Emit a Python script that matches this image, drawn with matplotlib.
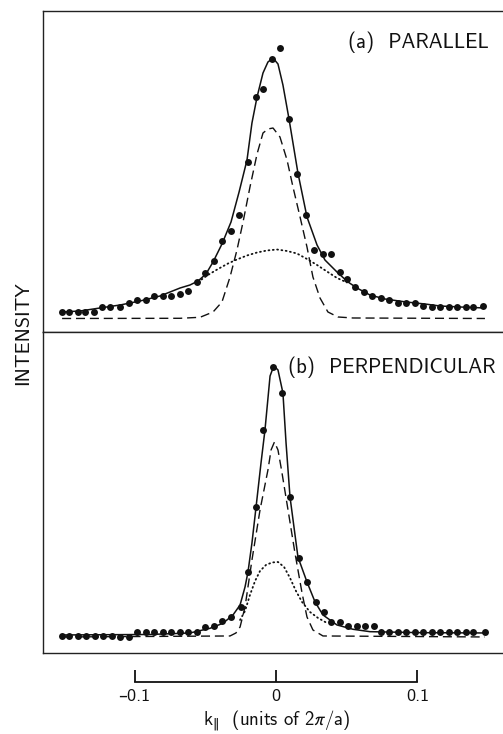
import matplotlib
matplotlib.use("Agg")
import matplotlib.pyplot as plt

plt.rcParams['font.family'] = ['cmss10', 'DejaVu Sans']
plt.rcParams['mathtext.fontset'] = 'dejavusans'
plt.rcParams['axes.unicode_minus'] = False

# ---- data: k_parallel (units of 2pi/a), intensity (arb. units) ----
# (a) parallel
k_a = [-0.151, -0.146, -0.140, -0.135, -0.129, -0.123, -0.117, -0.110, -0.104, -0.098,
       -0.092, -0.086, -0.080, -0.074, -0.068, -0.062, -0.056, -0.050, -0.044, -0.038,
       -0.032, -0.026, -0.020, -0.014, -0.009, -0.003, 0.003, 0.009, 0.015, 0.021,
       0.027, 0.033, 0.039, 0.045, 0.050, 0.056, 0.062, 0.068, 0.074, 0.080,
       0.086, 0.092, 0.098, 0.104, 0.110, 0.116, 0.122, 0.128, 0.134, 0.139, 0.146]
I_a = [20, 20, 20, 20, 20, 25, 25, 25, 29, 32,
       32, 36, 36, 36, 38, 41, 50, 59, 71, 91,
       101, 117, 170, 235, 243, 273, 284, 213, 158, 117,
       82, 78, 78, 60, 53, 45, 40, 36, 34, 32,
       29, 29, 29, 26, 25, 25, 25, 25, 25, 25, 26]

fit_k_a = [-0.1512, -0.1385, -0.1244, -0.1102, -0.0961, -0.0820, -0.0678, -0.0608, -0.0551,
           -0.0495, -0.0445, -0.0382, -0.0318, -0.0261, -0.0205, -0.0170, -0.0134, -0.0092,
           -0.0057, -0.0021, 0.0014, 0.0049, 0.0092, 0.0155, 0.0219, 0.0290, 0.0346, 0.0438,
           0.0509, 0.0572, 0.0664, 0.0770, 0.0919, 0.1053, 0.1159, 0.1300, 0.1477]
fit_I_a = [20, 21, 24, 27, 31, 36, 44, 47, 51,
           58, 70, 88, 110, 140, 172, 209, 235, 259,
           270, 274, 268, 247, 213, 159, 115, 87, 72, 59,
           50, 44, 37, 33, 30, 28, 26, 25, 24]

sharp_k_a = [-0.1512, -0.0678, -0.0537, -0.0445, -0.0382, -0.0325, -0.0276, -0.0233, -0.0184,
             -0.0134, -0.0092, -0.0057, -0.0021, 0.0028, 0.0078, 0.0120, 0.0170, 0.0219,
             0.0261, 0.0311, 0.0367, 0.0438, 0.0544, 0.1477]
sharp_I_a = [13.5, 13.7, 14.7, 20, 30, 55, 82, 110, 145,
             178, 199, 203, 204, 195, 172, 145, 115, 85,
             55, 34, 20, 15, 14, 13.5]

broad_k_a = [-0.0551, -0.0481, -0.0410, -0.0339, -0.0276, -0.0205, -0.0134, -0.0064,
             0.0007, 0.0078, 0.0148, 0.0219, 0.0290, 0.0360, 0.0431, 0.0502]
broad_I_a = [50, 57, 63, 68.5, 72.5, 76.5, 79.5, 81.5,
             82.5, 81, 78.5, 73, 67, 60.5, 54, 49.5]

# (b) perpendicular
k_b = [-0.151, -0.146, -0.140, -0.134, -0.128, -0.122, -0.116, -0.110, -0.104, -0.098,
       -0.092, -0.086, -0.080, -0.074, -0.068, -0.062, -0.056, -0.050, -0.044, -0.038,
       -0.032, -0.025, -0.020, -0.014, -0.009, -0.002, 0.004, 0.010, 0.016, 0.022,
       0.028, 0.034, 0.039, 0.045, 0.051, 0.057, 0.063, 0.069, 0.074, 0.080,
       0.086, 0.092, 0.098, 0.104, 0.110, 0.116, 0.122, 0.128, 0.134, 0.139, 0.148]
I_b = [17, 17, 17, 17, 17, 17, 17, 16, 16, 21,
       21, 21, 21, 21, 21, 21, 21, 26, 27, 32,
       36, 46, 81, 146, 223, 286, 260, 156, 95, 71,
       51, 41, 31, 31, 27, 27, 27, 27, 21, 21,
       21, 21, 21, 21, 21, 21, 21, 21, 21, 21, 21]

fit_k_b = [-0.1512, -0.0890, -0.0608, -0.0466, -0.0375, -0.0304, -0.0254, -0.0219, -0.0198,
           -0.0170, -0.0141, -0.0106, -0.0078, -0.0042, -0.0021, -0.0007, 0.0014, 0.0049,
           0.0071, 0.0099, 0.0155, 0.0219, 0.0276, 0.0332, 0.0431, 0.0544, 0.0664, 0.1018, 0.1477]
fit_I_b = [18, 18.5, 20, 24.7, 29.7, 38, 48, 66, 81,
           110, 146, 190, 223, 277, 285, 286, 283, 260,
           210, 156, 96, 71, 51, 38, 28, 23.7, 21.3, 20.3, 20]

sharp_k_b = [-0.1512, -0.0325, -0.0283, -0.0254, -0.0219, -0.0170, -0.0113, -0.0057, -0.0035,
             -0.0011, 0.0014, 0.0039, 0.0085, 0.0134, 0.0184, 0.0219, 0.0261, 0.0332, 0.1477]
sharp_I_b = [16, 17, 20, 26, 46, 93, 143, 183, 203,
             211, 203, 183, 143, 100, 60, 36, 23, 17, 16]

broad_k_b = [-0.0254, -0.0219, -0.0184, -0.0148, -0.0113, -0.0071, -0.0028, 0.0014,
             0.0057, 0.0099, 0.0141, 0.0184, 0.0240, 0.0297, 0.0360]
broad_I_b = [33, 42, 58, 72, 82, 88, 90.5, 91,
             86, 75, 62, 51, 41, 35, 30]

scale_ticks = [-0.1, 0, 0.1]
scale_labels = ['\u20130.1', '0', '0.1']

# ---- figure ----
fig = plt.figure(figsize=(5.03, 7.34), dpi=100)
xlim = (-0.1647, 0.1654)
ink = '#111111'

ax_a = fig.add_axes([0.0855, 0.5477, 0.9284, 0.4373])
ax_b = fig.add_axes([0.0855, 0.1104, 0.9284, 0.4373])

panels = [
    (ax_a, k_a, I_a, fit_k_a, fit_I_a, sharp_k_a, sharp_I_a, broad_k_a, broad_I_a,
     '(a)  PARALLEL', 0.653, 0.903),
    (ax_b, k_b, I_b, fit_k_b, fit_I_b, sharp_k_b, sharp_I_b, broad_k_b, broad_I_b,
     '(b)  PERPENDICULAR', 0.525, 0.891),
]
for ax, k, I, fk, fI, sk, sI, bk, bI, label, tx, ty in panels:
    ax.plot(fk, fI, color=ink, lw=1.1, solid_capstyle='round')
    ax.plot(sk, sI, color=ink, lw=1.0, linestyle=(0, (6.5, 3.5)))
    ax.plot(bk, bI, color=ink, lw=1.3, linestyle=(0, (0.5, 1.9)), dash_capstyle='round')
    ax.plot(k, I, 'o', color=ink, markersize=5.0, markeredgewidth=0)
    ax.set_xlim(*xlim)
    ax.set_ylim(0, 321)
    ax.set_xticks([])
    ax.set_yticks([])
    ax.spines['right'].set_visible(False)
    for s in ('left', 'top', 'bottom'):
        ax.spines[s].set_linewidth(1.0)
        ax.spines[s].set_color('#222222')
    ax.text(tx, ty, label, transform=ax.transAxes, fontsize=15, color=ink,
            ha='left', va='center')

# scale bar for k
ax_s = fig.add_axes([0.0855, 0.0708, 0.9284, 0.001])
ax_s.set_facecolor('none')
ax_s.set_xlim(*xlim)
ax_s.set_yticks([])
for s in ('left', 'right', 'top'):
    ax_s.spines[s].set_visible(False)
ax_s.spines['bottom'].set_bounds(-0.1, 0.1)
ax_s.spines['bottom'].set_linewidth(1.3)
ax_s.spines['bottom'].set_color(ink)
ax_s.set_xticks(scale_ticks)
ax_s.set_xticklabels(scale_labels)
ax_s.tick_params(axis='x', direction='in', length=9, width=1.3, pad=5,
                 labelsize=13, colors=ink)
ax_s.set_xlabel(r'$\mathregular{k}_{\Vert}$  (units of 2$\mathregular{\pi}$/a)',
                fontsize=13.5, color=ink, labelpad=3)

fig.text(0.046, 0.546, 'INTENSITY', rotation=90, ha='center', va='center',
         fontsize=14.5, color=ink)

fig.savefig('out.png', dpi=100)
